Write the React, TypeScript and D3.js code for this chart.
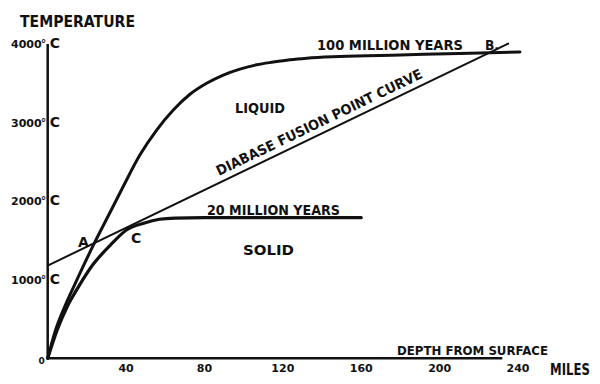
import React, { useEffect, useRef } from 'react';
import * as d3 from 'd3';

// 100 million years cooling curve
const depth100 = [0, 3.7, 8.8, 13.9, 23.3, 32.7, 38.6, 47.1, 55.6, 64.1, 72.6, 81.1, 89.6, 98.1, 106.6, 115.1, 123.6, 132.2, 149, 180, 210, 241];
const temp100 = [0, 335, 665, 945, 1440, 1900, 2190, 2590, 2905, 3160, 3360, 3500, 3605, 3680, 3735, 3770, 3800, 3820, 3840, 3860, 3880, 3898];

// 20 million years cooling curve
const depth20 = [0, 5, 10, 15, 23, 32, 40, 49, 57, 65, 80, 120, 160];
const temp20 = [0, 370, 660, 880, 1190, 1440, 1630, 1720, 1770, 1785, 1790, 1790, 1790];

// diabase fusion point line
const depthFusion = [0, 235];
const tempFusion = [1180, 4005];

const yTicks = [1000, 2000, 3000, 4000];
const xTicks = [40, 80, 120, 160, 200, 240];

const FONT = '"DejaVu Sans", sans-serif';
const INK = '#111';

export default function App() {
  const svgRef = useRef<SVGSVGElement>(null);

  useEffect(() => {
    const width = 600;
    const height = 384;

    const x = d3.scaleLinear().domain([0, 240]).range([47.7, 518]);
    const y = d3.scaleLinear().domain([0, 4000]).range([358.3, 44]);

    const svg = d3.select(svgRef.current).attr('width', width).attr('height', height);
    svg.selectAll('*').remove();

    svg.append('rect').attr('width', width).attr('height', height).attr('fill', '#fff');

    // axes
    svg
      .append('line')
      .attr('x1', x(0))
      .attr('x2', x(0))
      .attr('y1', y(0))
      .attr('y2', y(4000))
      .attr('stroke', INK)
      .attr('stroke-width', 2.5);
    svg
      .append('line')
      .attr('x1', x(0))
      .attr('x2', x(232))
      .attr('y1', y(0))
      .attr('y2', y(0))
      .attr('stroke', INK)
      .attr('stroke-width', 2.5);

    const line = d3
      .line<[number, number]>()
      .x((d) => x(d[0]))
      .y((d) => y(d[1]))
      .curve(d3.curveMonotoneX);

    const series = [
      { d: depth100.map((v, i) => [v, temp100[i]] as [number, number]), w: 3 },
      { d: depth20.map((v, i) => [v, temp20[i]] as [number, number]), w: 3.2 },
      { d: depthFusion.map((v, i) => [v, tempFusion[i]] as [number, number]), w: 2 },
    ];

    svg
      .append('g')
      .selectAll('path')
      .data(series)
      .join('path')
      .attr('d', (s) => line(s.d))
      .attr('fill', 'none')
      .attr('stroke', INK)
      .attr('stroke-width', (s) => s.w)
      .attr('stroke-linecap', 'round');

    const g = svg
      .append('g')
      .attr('font-family', FONT)
      .attr('font-weight', 'bold')
      .attr('fill', INK);

    // y labels: "4000°" left of the axis, "C" right of it
    const yl = g
      .selectAll('text.ylab')
      .data(yTicks)
      .join('text')
      .attr('class', 'ylab')
      .attr('y', (d) => y(d) + 4);
    yl.append('tspan')
      .attr('x', x(0) - 6)
      .attr('text-anchor', 'end')
      .attr('font-size', 11)
      .text((d) => String(d));
    yl.append('tspan')
      .attr('x', x(0) - 7)
      .attr('dy', -1)
      .attr('font-size', 11)
      .text('°');
    yl.append('tspan')
      .attr('x', x(0) + 2)
      .attr('dy', 1)
      .attr('font-size', 14)
      .text('C');

    g.append('text')
      .attr('x', x(0) - 6)
      .attr('y', y(0) + 6)
      .attr('text-anchor', 'middle')
      .attr('font-size', 9)
      .text('0');

    // x labels
    g.selectAll('text.xlab')
      .data(xTicks)
      .join('text')
      .attr('class', 'xlab')
      .attr('x', (d) => x(d))
      .attr('y', 372)
      .attr('text-anchor', 'middle')
      .attr('font-size', 11)
      .text((d) => String(d));

    const label = (t: string, lx: number, ly: number, size: number, len?: number) => {
      const el = g.append('text').attr('x', lx).attr('y', ly).attr('font-size', size).text(t);
      if (len) el.attr('textLength', len).attr('lengthAdjust', 'spacingAndGlyphs');
      return el;
    };

    label('TEMPERATURE', 20, 27, 15, 115);
    label('100 MILLION YEARS', 317, 50, 14, 146);
    label('B.', 485, 50, 14, 14);
    label('LIQUID', 235, 113, 14, 50);
    label('20 MILLION YEARS', 207, 215, 14, 133);
    label('SOLID', 243, 255, 14, 51);
    label('A', 78, 247, 14);
    label('C', 131, 243, 14);
    label('DEPTH FROM SURFACE', 397, 355, 13, 151);

    g.append('text')
      .attr('transform', 'translate(550,375) scale(0.78,1)')
      .attr('font-size', 15)
      .text('MILES');

    // label along the fusion line
    const angle =
      (Math.atan2(y(tempFusion[1]) - y(tempFusion[0]), x(depthFusion[1]) - x(depthFusion[0])) * 180) /
      Math.PI;
    g.append('text')
      .attr('transform', `translate(219,176) rotate(${angle})`)
      .attr('font-size', 14)
      .attr('textLength', 227)
      .attr('lengthAdjust', 'spacingAndGlyphs')
      .text('DIABASE FUSION POINT CURVE');
  }, []);

  return (
    <div style={{ position: 'absolute', left: 0, top: 0 }}>
      <svg ref={svgRef}></svg>
    </div>
  );
}
